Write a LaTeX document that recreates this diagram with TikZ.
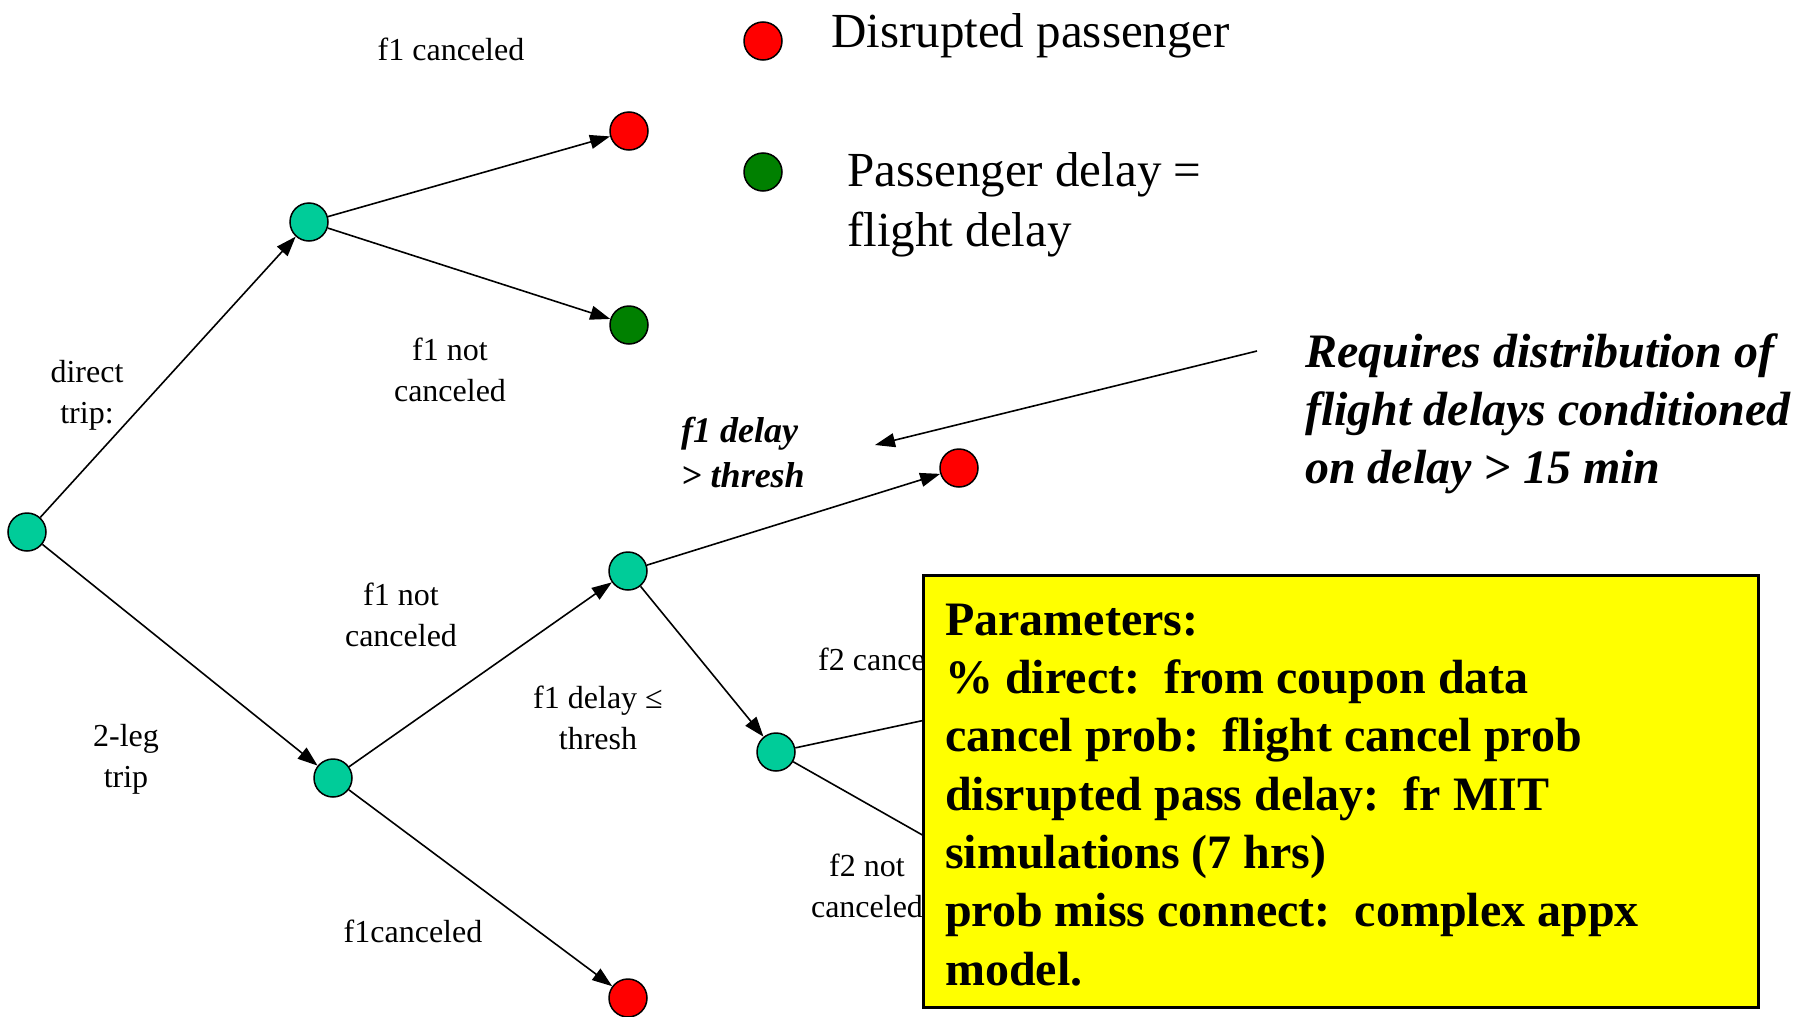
\documentclass[tikz,border=0pt]{standalone}
\usepackage{fontspec}
\setmainfont{Liberation Serif}
\usetikzlibrary{arrows.meta}
\definecolor{nodeteal}{RGB}{0,204,153}
\definecolor{dgreen}{RGB}{0,128,0}
\definecolor{boxyellow}{RGB}{255,255,0}
\begin{document}
\begin{tikzpicture}[x=1pt,y=-1pt,
  dot/.style={circle, draw=black, line width=1.5pt, minimum size=38pt, inner sep=0pt},
  tealdot/.style={dot, fill=nodeteal},
  reddot/.style={dot, fill=red},
  greendot/.style={dot, fill=dgreen},
  arr/.style={-{Triangle[length=20pt,width=14pt]}, line width=1.6pt},
  plainline/.style={line width=1.6pt},
  lbl/.style={font=\fontsize{32}{41}\selectfont, align=center, inner sep=0pt},
  bigtxt/.style={inner sep=0pt, align=left}]
\useasboundingbox (0,0) rectangle (1796,1017);
\fill[white] (0,0) rectangle (1796,1017);

% tree nodes
\node[tealdot] (root) at (27,532) {};
\node[tealdot] (A) at (309,222) {};
\node[reddot] (r1) at (629,131) {};
\node[greendot] (g1) at (629,325) {};
\node[tealdot] (B) at (333,778) {};
\node[tealdot] (C) at (628,571) {};
\node[reddot] (r2) at (959,468) {};
\node[tealdot] (D) at (776,752) {};
\node[reddot] (r3) at (628,998) {};

% legend
\node[reddot] (lr) at (763,41) {};
\node[greendot] (lg) at (763,172) {};
\node[bigtxt, anchor=base west, font=\fontsize{49}{60}\selectfont] (t1) at (831,47) {Disrupted passenger};
\node[bigtxt, anchor=base west, font=\fontsize{49}{60}\selectfont] (t2) at (847,246) {Passenger delay =\\flight delay};

% annotation
\node[bigtxt, anchor=base west, font=\fontsize{48}{58}\selectfont\bfseries\itshape] (req) at (1305,483) {Requires distribution of\\flight delays conditioned\\on delay > 15 min};
\coordinate (ann0) at (1257,351);
\coordinate (ann1) at (875,445);
\draw[arr] (ann0) -- (ann1);

% edges
\draw[arr] (root) -- (A);
\draw[arr] (A) -- (r1);
\draw[arr] (A) -- (g1);
\draw[arr] (root) -- (B);
\draw[arr] (B) -- (C);
\draw[arr] (B) -- (r3);
\draw[arr] (C) -- (r2);
\draw[arr] (C) -- (D);
\coordinate (h1) at (1000,704);
\coordinate (h2) at (1000,879);
\draw[plainline] (D) -- (h1);
\draw[plainline] (D) -- (h2);

% labels
\node[lbl, anchor=base] (l1) at (451,60) {f1 canceled};
\node[lbl, anchor=base] (l2) at (450,401) {f1 not\\canceled};
\node[lbl, anchor=base] (l3) at (87,423) {direct\\trip:};
\node[lbl, anchor=base] (l4) at (401,646) {f1 not\\canceled};
\node[lbl, anchor=base] (l5) at (598,749) {f1 delay ≤\\thresh};
\node[lbl, anchor=base] (l6) at (126,787) {2-leg\\trip};
\node[lbl, anchor=base] (l7) at (413,942) {f1canceled};
\node[lbl, anchor=base west] (l8) at (818,670) {f2 canceled};
\node[lbl, anchor=base] (l9) at (867,917) {f2 not\\canceled};
\node[bigtxt, anchor=base west, font=\fontsize{36}{45}\selectfont\bfseries\itshape] (l10) at (681,487) {f1 delay\\> thresh};

% parameters box
\node[draw=black, fill=boxyellow, line width=2.5pt, minimum width=835pt, minimum height=432pt, anchor=north west, inner sep=0pt] (box) at (922,574) {};
\node[bigtxt, anchor=base west, font=\fontsize{48}{58.3}\selectfont\bfseries] (params) at (945,985) {Parameters:\\\%~direct:\ \ from coupon data\\cancel prob:\ \ flight cancel prob\\disrupted pass delay:\ \ fr MIT\\simulations (7 hrs)\\prob miss connect:\ \ complex appx\\model.};
\end{tikzpicture}
\end{document}
